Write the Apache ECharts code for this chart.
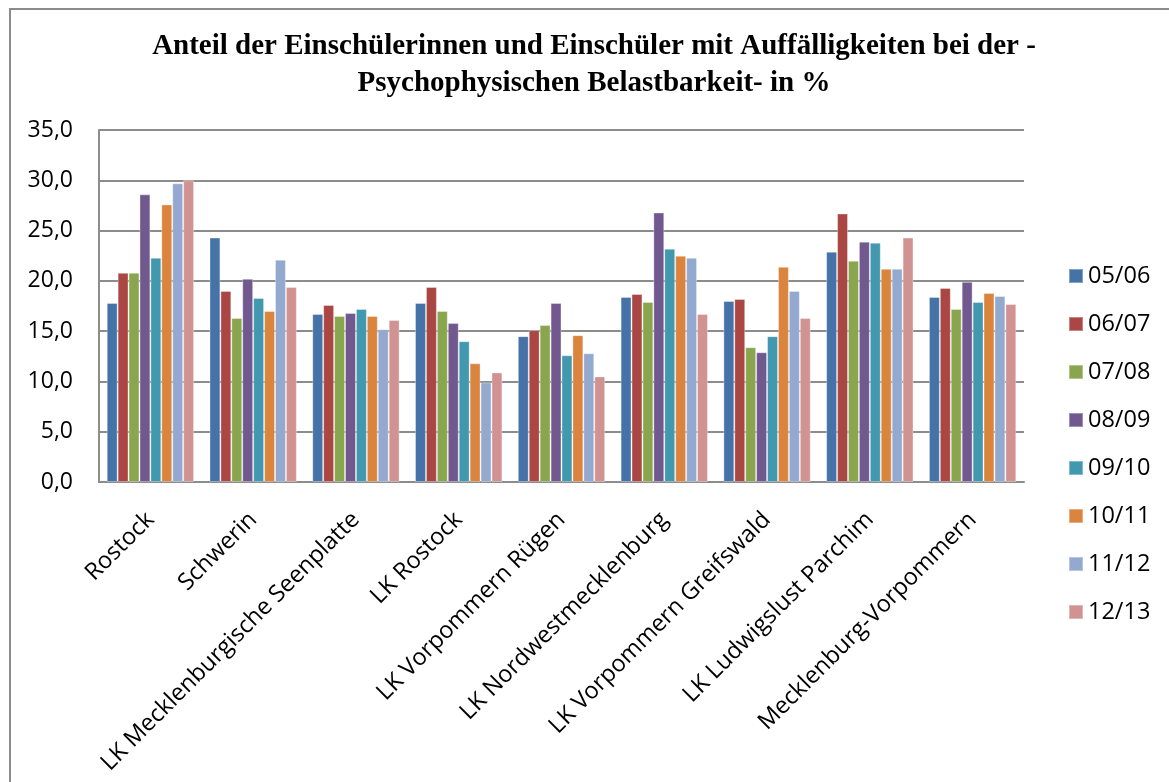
<!DOCTYPE html>
<html>
<head>
<meta charset="utf-8">
<script src="https://cdn.jsdelivr.net/npm/echarts@6/dist/echarts.min.js"></script>
<style>
  html, body { margin: 0; padding: 0; background: #fff; }
  #chart { width: 1169px; height: 782px; }
</style>
</head>
<body>
<div id="chart"></div>
<script>
// Regions (districts and state total)
const regions = [
  'Rostock', 'Schwerin', 'LK Mecklenburgische Seenplatte', 'LK Rostock',
  'LK Vorpommern Rügen', 'LK Nordwestmecklenburg', 'LK Vorpommern Greifswald',
  'LK Ludwigslust Parchim', 'Mecklenburg-Vorpommern'
];

// School years (one series each)
const years = ['05/06', '06/07', '07/08', '08/09', '09/10', '10/11', '11/12', '12/13'];

// Share in % per school year, in region order
const v0506 = [17.8, 24.3, 16.7, 17.8, 14.5, 18.4, 18.0, 22.9, 18.4];
const v0607 = [20.8, 19.0, 17.6, 19.4, 15.1, 18.7, 18.2, 26.7, 19.3];
const v0708 = [20.8, 16.3, 16.5, 17.0, 15.6, 17.9, 13.4, 22.0, 17.2];
const v0809 = [28.6, 20.2, 16.8, 15.8, 17.8, 26.8, 12.9, 23.9, 19.9];
const v0910 = [22.3, 18.3, 17.2, 14.0, 12.6, 23.2, 14.5, 23.8, 17.9];
const v1011 = [27.6, 17.0, 16.5, 11.8, 14.6, 22.5, 21.4, 21.2, 18.8];
const v1112 = [29.7, 22.1, 15.2,  9.9, 12.8, 22.3, 19.0, 21.2, 18.5];
const v1213 = [30.0, 19.4, 16.1, 10.9, 10.5, 16.7, 16.3, 24.3, 17.7];

const seriesValues = [v0506, v0607, v0708, v0809, v0910, v1011, v1112, v1213];
const palette = ['#4572A7', '#AA4643', '#89A54E', '#71588F', '#4198AF', '#DB843D', '#93A9CF', '#D19392'];

const yTicks = { min: 0, max: 35, interval: 5 };

const labelFont = '"Open Sans", "Liberation Sans", sans-serif';

const chart = echarts.init(document.getElementById('chart'), null, { renderer: 'canvas' });

chart.setOption({
  backgroundColor: '#ffffff',
  animation: false,
  color: palette,
  title: {
    text: 'Anteil der Einschülerinnen und Einschüler mit Auffälligkeiten bei der -\nPsychophysischen Belastbarkeit- in %',
    left: 594,
    top: 28,
    padding: 0,
    textAlign: 'center',
    textStyle: {
      fontFamily: '"Liberation Serif", "Times New Roman", serif',
      fontWeight: 'bold',
      fontSize: 29,
      lineHeight: 37,
      color: '#000'
    }
  },
  graphic: [{
    type: 'rect',
    shape: { x: 10, y: 9, width: 1200, height: 800 },
    style: { fill: 'none', stroke: '#8c8c8c', lineWidth: 2 },
    silent: true
  }],
  legend: {
    orient: 'vertical',
    left: 1068,
    top: 264,
    padding: 0,
    itemWidth: 14,
    itemHeight: 14,
    itemGap: 24,
    icon: 'rect',
    textStyle: { fontFamily: labelFont, fontSize: 23.5, lineHeight: 24, color: '#000' },
    data: years
  },
  grid: { left: 99, right: 145, top: 130, bottom: 300, containLabel: false },
  xAxis: {
    type: 'category',
    data: regions,
    axisLine: { lineStyle: { color: '#8c8c8c', width: 2 } },
    axisTick: { show: false },
    axisLabel: {
      rotate: 45,
      interval: 0,
      margin: 34,
      fontFamily: labelFont,
      fontSize: 23.5,
      color: '#000'
    }
  },
  yAxis: {
    type: 'value',
    min: yTicks.min,
    max: yTicks.max,
    interval: yTicks.interval,
    axisLine: { show: true, lineStyle: { color: '#8c8c8c', width: 2 } },
    axisTick: { show: false },
    splitLine: { lineStyle: { color: '#8c8c8c', width: 2 } },
    axisLabel: {
      margin: 26,
      fontFamily: labelFont,
      fontSize: 23,
      color: '#000',
      formatter: v => v.toFixed(1).replace('.', ',')
    }
  },
  series: years.map((y, i) => ({
    name: y,
    type: 'bar',
    data: seriesValues[i],
    barGap: '0%',
    barCategoryGap: '15%',
    itemStyle: { color: palette[i], borderColor: 'rgba(255,255,255,0.35)', borderWidth: 1 }
  }))
});
</script>
</body>
</html>
